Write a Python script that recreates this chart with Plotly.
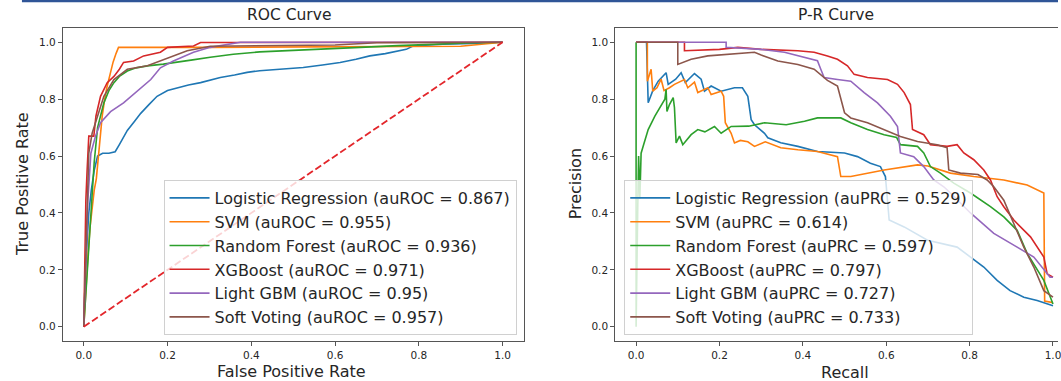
import plotly.graph_objects as go

W, H = 1061, 381

models = ["Logistic Regression", "SVM", "Random Forest", "XGBoost", "Light GBM", "Soft Voting"]
colors = ["#1f77b4", "#ff7f0e", "#2ca02c", "#d62728", "#9467bd", "#8c564b"]
auroc = ["0.867", "0.955", "0.936", "0.971", "0.95", "0.957"]
auprc = ["0.529", "0.614", "0.597", "0.797", "0.727", "0.733"]
ticks = [0.0, 0.2, 0.4, 0.6, 0.8, 1.0]
tick_text = ["0.0", "0.2", "0.4", "0.6", "0.8", "1.0"]

# ---------------- ROC curves (FPR, TPR) ----------------
lr_fpr = [0, 0.003, 0.008, 0.012, 0.018, 0.025, 0.033, 0.045, 0.06, 0.075, 0.085, 0.104, 0.12, 0.136, 0.155,
          0.175, 0.2, 0.223, 0.25, 0.279, 0.3, 0.326, 0.36, 0.39, 0.42, 0.47, 0.524, 0.57, 0.612, 0.65, 0.683,
          0.72, 0.77, 0.786, 0.82, 0.857, 0.93, 1.0]
lr_tpr = [0, 0.15, 0.3, 0.4, 0.48, 0.55, 0.6, 0.61, 0.61, 0.615, 0.64, 0.69, 0.72, 0.75, 0.78,
          0.81, 0.83, 0.84, 0.85, 0.858, 0.866, 0.876, 0.885, 0.894, 0.9, 0.905, 0.911, 0.92, 0.929, 0.94, 0.952,
          0.96, 0.975, 0.987, 0.99, 0.993, 0.996, 1.0]
svm_fpr = [0, 0.004, 0.01, 0.015, 0.02, 0.025, 0.03, 0.035, 0.04, 0.044, 0.05, 0.055, 0.064, 0.07, 0.077,
           0.083, 0.3, 0.6, 0.9, 1.0]
svm_tpr = [0, 0.12, 0.25, 0.35, 0.42, 0.48, 0.52, 0.6, 0.69, 0.74, 0.8, 0.84, 0.894, 0.93, 0.96,
           0.982, 0.982, 0.983, 0.986, 1.0]
rf_fpr = [0, 0.004, 0.008, 0.012, 0.018, 0.025, 0.033, 0.048, 0.06, 0.072, 0.085, 0.104, 0.125, 0.152, 0.19,
          0.223, 0.26, 0.302, 0.357, 0.42, 0.5, 0.58, 0.66, 0.75, 0.866, 0.93, 1.0]
rf_tpr = [0, 0.1, 0.2, 0.3, 0.45, 0.58, 0.70, 0.787, 0.83, 0.858, 0.88, 0.899, 0.91, 0.917, 0.923,
          0.929, 0.938, 0.947, 0.958, 0.966, 0.972, 0.977, 0.982, 0.988, 0.996, 0.998, 1.0]
xgb_fpr = [0, 0.002, 0.004, 0.005, 0.008, 0.012, 0.024, 0.029, 0.04, 0.056, 0.072, 0.085, 0.095, 0.119, 0.143,
           0.183, 0.2, 0.262, 0.279, 0.6, 1.0]
xgb_tpr = [0, 0.2, 0.35, 0.445, 0.55, 0.67, 0.67, 0.74, 0.81, 0.858, 0.88, 0.905, 0.929, 0.934, 0.952,
           0.965, 0.982, 0.987, 0.999, 1.0, 1.0]
lgbm_fpr = [0, 0.003, 0.006, 0.01, 0.017, 0.028, 0.04, 0.064, 0.095, 0.128, 0.16, 0.183, 0.214, 0.262, 0.302,
            0.374, 0.6, 1.0]
lgbm_tpr = [0, 0.15, 0.3, 0.45, 0.61, 0.67, 0.717, 0.756, 0.787, 0.828, 0.869, 0.91, 0.934, 0.965, 0.982,
            1.0, 1.0, 1.0]
sv_fpr = [0, 0.003, 0.006, 0.009, 0.012, 0.02, 0.033, 0.048, 0.072, 0.104, 0.152, 0.183, 0.247, 0.302, 0.45,
          0.6, 0.7, 1.0]
sv_tpr = [0, 0.15, 0.3, 0.45, 0.61, 0.68, 0.74, 0.81, 0.869, 0.905, 0.917, 0.934, 0.97, 0.986, 0.988,
          0.99, 0.998, 1.0]

# ---------------- P-R curves (Recall, Precision) ----------------
lr_rec = [0.0, 0.025, 0.029, 0.04, 0.053, 0.072, 0.077, 0.095, 0.108, 0.118, 0.14, 0.156, 0.164, 0.18, 0.204,
          0.236, 0.255, 0.268, 0.276, 0.284, 0.308, 0.316, 0.347, 0.388, 0.435, 0.5, 0.531, 0.562, 0.586, 0.598,
          0.603, 0.607, 0.643, 0.699, 0.77, 0.802, 0.834, 0.866, 0.897, 0.93, 0.962, 1.0]
lr_prec = [1.0, 1.0, 0.787, 0.83, 0.863, 0.893, 0.852, 0.87, 0.893, 0.858, 0.89, 0.87, 0.828, 0.846, 0.828,
           0.84, 0.84, 0.81, 0.728, 0.71, 0.68, 0.664, 0.647, 0.634, 0.616, 0.611, 0.598, 0.575, 0.563, 0.528,
           0.445, 0.375, 0.351, 0.304, 0.28, 0.245, 0.21, 0.163, 0.127, 0.104, 0.092, 0.074]
svm_rec = [0, 0.027, 0.027, 0.036, 0.04, 0.05, 0.06, 0.067, 0.08, 0.092, 0.116, 0.124, 0.14, 0.148, 0.172,
           0.18, 0.204, 0.21, 0.214, 0.228, 0.236, 0.25, 0.268, 0.284, 0.31, 0.347, 0.388, 0.435, 0.483, 0.491,
           0.515, 0.595, 0.675, 0.7, 0.754, 0.81, 0.882, 0.938, 0.978, 0.98, 1.0]
svm_prec = [1.0, 1.0, 0.863, 0.905, 0.828, 0.84, 0.87, 0.83, 0.84, 0.852, 0.869, 0.84, 0.86, 0.823, 0.84,
            0.816, 0.828, 0.81, 0.717, 0.68, 0.646, 0.655, 0.65, 0.634, 0.65, 0.629, 0.622, 0.616, 0.598, 0.528,
            0.528, 0.551, 0.569, 0.565, 0.54, 0.528, 0.516, 0.498, 0.47, 0.09, 0.085]
rf_rec = [0, 0, 0.004, 0.006, 0.009, 0.012, 0.018, 0.029, 0.045, 0.069, 0.072, 0.074, 0.08, 0.089, 0.092,
          0.096, 0.104, 0.112, 0.132, 0.148, 0.165, 0.188, 0.204, 0.228, 0.27, 0.308, 0.36, 0.404, 0.435, 0.491,
          0.515, 0.555, 0.595, 0.625, 0.634, 0.675, 0.69, 0.706, 0.73, 0.762, 0.802, 0.85, 0.882, 0.914, 0.938,
          0.978, 1.0]
rf_prec = [1.0, 0.0, 0.42, 0.6, 0.45, 0.61, 0.64, 0.693, 0.74, 0.80, 0.834, 0.757, 0.781, 0.805, 0.77,
           0.646, 0.67, 0.64, 0.675, 0.693, 0.685, 0.704, 0.68, 0.704, 0.705, 0.717, 0.71, 0.722, 0.734, 0.734,
           0.717, 0.693, 0.675, 0.665, 0.64, 0.634, 0.611, 0.563, 0.54, 0.505, 0.47, 0.422, 0.386, 0.339, 0.258,
           0.163, 0.08]
xgb_rec = [0, 0.116, 0.116, 0.2, 0.244, 0.3, 0.388, 0.427, 0.459, 0.483, 0.507, 0.523, 0.555, 0.603, 0.627,
           0.643, 0.658, 0.663, 0.69, 0.706, 0.746, 0.77, 0.786, 0.81, 0.834, 0.85, 0.866, 0.882, 0.906, 0.946,
           0.978, 0.986, 1.0]
xgb_prec = [1.0, 1.0, 0.97, 0.975, 0.982, 0.975, 0.97, 0.965, 0.952, 0.94, 0.917, 0.887, 0.876, 0.869, 0.852,
            0.823, 0.781, 0.693, 0.675, 0.64, 0.634, 0.64, 0.611, 0.587, 0.551, 0.516, 0.457, 0.422, 0.375, 0.316,
            0.245, 0.186, 0.174]
lgbm_rec = [0, 0.216, 0.216, 0.3, 0.356, 0.404, 0.435, 0.443, 0.451, 0.483, 0.515, 0.547, 0.579, 0.61, 0.627,
            0.634, 0.666, 0.69, 0.714, 0.738, 0.754, 0.802, 0.858, 0.914, 0.954, 0.993, 1.0]
lgbm_prec = [1.0, 1.0, 0.982, 0.975, 0.965, 0.947, 0.935, 0.905, 0.876, 0.869, 0.863, 0.823, 0.787, 0.74, 0.704,
             0.611, 0.598, 0.563, 0.516, 0.492, 0.47, 0.40, 0.328, 0.28, 0.245, 0.174, 0.174]
sv_rec = [0, 0.1, 0.1, 0.132, 0.172, 0.228, 0.284, 0.3, 0.34, 0.388, 0.427, 0.459, 0.483, 0.5, 0.515,
          0.555, 0.595, 0.634, 0.675, 0.722, 0.746, 0.75, 0.778, 0.82, 0.842, 0.858, 0.882, 0.906, 0.93, 0.954,
          0.978, 1.0]
sv_prec = [1.0, 1.0, 0.922, 0.94, 0.952, 0.958, 0.965, 0.955, 0.934, 0.922, 0.905, 0.866, 0.846, 0.752, 0.734,
           0.717, 0.693, 0.669, 0.651, 0.64, 0.629, 0.551, 0.54, 0.535, 0.516, 0.492, 0.445, 0.363, 0.28, 0.21,
           0.127, 0.104]

roc_data = [(lr_fpr, lr_tpr), (svm_fpr, svm_tpr), (rf_fpr, rf_tpr), (xgb_fpr, xgb_tpr),
            (lgbm_fpr, lgbm_tpr), (sv_fpr, sv_tpr)]
pr_data = [(lr_rec, lr_prec), (svm_rec, svm_prec), (rf_rec, rf_prec), (xgb_rec, xgb_prec),
           (lgbm_rec, lgbm_prec), (sv_rec, sv_prec)]
diag = [0.0, 1.0]

FONT = "DejaVu Sans"
TXT = "#262626"


def px(x):
    return x / W


def py(y):
    return 1 - y / H


fig = go.Figure()

for name, col, auc, (xs, ys) in zip(models, colors, auroc, roc_data):
    fig.add_trace(go.Scatter(x=xs, y=ys, mode="lines", name=f"{name} (auROC = {auc})",
                             line=dict(color=col, width=1.6), xaxis="x", yaxis="y", legend="legend"))
fig.add_trace(go.Scatter(x=diag, y=diag, mode="lines", showlegend=False,
                         line=dict(color="#e3262b", width=1.8, dash="7px,3px"), xaxis="x", yaxis="y"))

for name, col, auc, (xs, ys) in zip(models, colors, auprc, pr_data):
    fig.add_trace(go.Scatter(x=xs, y=ys, mode="lines", name=f"{name} (auPRC = {auc})",
                             line=dict(color=col, width=1.6), xaxis="x2", yaxis="y2", legend="legend2"))

axis_common = dict(showgrid=False, zeroline=False, showline=True, linecolor="#555555", linewidth=1,
                   ticks="outside", ticklen=4, tickwidth=1, tickcolor="#555555",
                   tickvals=ticks, ticktext=tick_text, ticklabeloverflow="allow",
                   tickfont=dict(family=FONT, size=10.5, color=TXT))

legend_common = dict(xanchor="left", yanchor="top", itemwidth=40,
                     bgcolor="rgba(255,255,255,0.8)", bordercolor="#d0d0d0", borderwidth=1,
                     font=dict(family=FONT, size=16, color=TXT))

fig.update_layout(
    width=W, height=H, margin=dict(l=0, r=0, t=0, b=0),
    paper_bgcolor="white", plot_bgcolor="white",
    font=dict(family=FONT, color=TXT),
    xaxis=dict(domain=[px(63), px(525)], range=[-0.05, 1.05], mirror=True, anchor="y", **axis_common),
    yaxis=dict(domain=[py(341), py(28)], range=[-0.05, 1.05], mirror=True, anchor="x", **axis_common),
    xaxis2=dict(domain=[px(617), 1.0], range=[-0.05, 1.012], mirror=True, anchor="y2", **axis_common),
    yaxis2=dict(domain=[py(341), py(28)], range=[-0.05, 1.05], mirror=False, anchor="x2", **axis_common),
    legend=dict(x=px(164), y=py(180), **legend_common),
    legend2=dict(x=px(626), y=py(180), **legend_common),
    showlegend=True,
)

annots = [
    dict(text="ROC Curve", x=px(290), y=py(15), size=15.5, angle=0),
    dict(text="P-R Curve", x=px(838), y=py(15), size=15.5, angle=0),
    dict(text="False Positive Rate", x=px(292), y=py(371), size=16, angle=0),
    dict(text="Recall", x=px(847), y=py(372), size=16, angle=0),
    dict(text="True Positive Rate", x=px(22), y=py(184), size=16, angle=-90),
    dict(text="Precision", x=px(577), y=py(184), size=16, angle=-90),
]
for a in annots:
    fig.add_annotation(text=a["text"], x=a["x"], y=a["y"], xref="paper", yref="paper",
                       xanchor="center", yanchor="middle", showarrow=False, textangle=a["angle"],
                       font=dict(family=FONT, size=a["size"], color=TXT))

# blue frame line at very top of the picture
fig.add_shape(type="line", xref="paper", yref="paper", x0=px(22), x1=1.0, y0=py(1), y1=py(1),
              line=dict(color="#2f5597", width=2.5))

fig.write_html("out.html", config={"displayModeBar": False},
               post_script="document.body.style.margin='0';document.body.style.overflow='hidden';")
